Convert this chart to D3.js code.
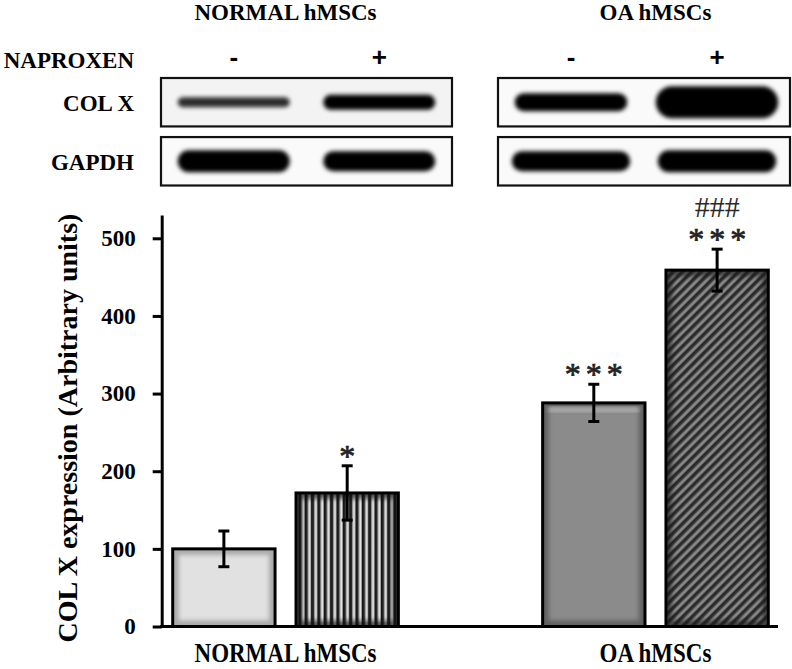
<!DOCTYPE html>
<html><head><meta charset="utf-8">
<script src="https://cdn.jsdelivr.net/npm/d3@7"></script>
<style>body{margin:0;background:#fff}svg{display:block}</style>
</head><body><svg id="c" width="792" height="669"></svg>
<script>
// ---------- data ----------
const groups = ["NORMAL hMSCs", "OA hMSCs"];
const treatments = ["-", "+"];
const normalValues = [100, 172];
const oaValues = [288, 459];
const normalErrors = [23, 35];
const oaErrors = [24, 27];
const starLabels = ["", "*", "***", "***"];
const hashLabels = ["", "", "", "###"];
const yTicks = [0, 100, 200, 300, 400, 500];
const blotRows = ["COL X", "GAPDH"];
// western blot band thickness (relative intensity) per group x treatment
const colxBandThickness = [[10, 15], [18, 32]];
const colxBandDarkness = [[0.82, 1], [1, 1]];
const gapdhBandThickness = [[22, 20], [20, 22]];

const bars = [];
groups.forEach((g, gi) => treatments.forEach((t, ti) => {
  const vals = gi === 0 ? normalValues : oaValues;
  const errs = gi === 0 ? normalErrors : oaErrors;
  const idx = gi * 2 + ti;
  bars.push({group: g, treat: t, value: vals[ti], err: errs[ti], idx,
             star: starLabels[idx], hash: hashLabels[idx]});
}));

// ---------- setup ----------
const svg = d3.select("#c");
const FONT = "'Liberation Serif','Times New Roman',serif";
svg.append("rect").attr("width", 792).attr("height", 669).attr("fill", "#fff");
const defs = svg.append("defs");

defs.append("filter").attr("id", "blur").attr("x", "-20%").attr("y", "-80%")
  .attr("width", "140%").attr("height", "260%")
  .append("feGaussianBlur").attr("stdDeviation", 2.3);
defs.append("filter").attr("id", "soft").attr("x", "-10%").attr("y", "-10%")
  .attr("width", "120%").attr("height", "120%")
  .append("feGaussianBlur").attr("stdDeviation", 2.2);

// vertical stripes
const vg = defs.append("linearGradient").attr("id", "vg").attr("x1", 0).attr("x2", 1).attr("y1", 0).attr("y2", 0);
[[0, "#111"], [0.38, "#2a2a2a"], [0.55, "#b5b5b5"], [0.78, "#e8e8e8"], [1, "#777"]]
  .forEach(([o, c]) => vg.append("stop").attr("offset", o).attr("stop-color", c));
defs.append("pattern").attr("id", "vstripe").attr("patternUnits", "userSpaceOnUse")
  .attr("width", 6.35).attr("height", 10)
  .append("rect").attr("width", 6.35).attr("height", 10).attr("fill", "url(#vg)");

// diagonal stripes
const dg = defs.append("linearGradient").attr("id", "dg").attr("x1", 0).attr("x2", 1).attr("y1", 0).attr("y2", 0);
[[0, "#262626"], [0.42, "#303030"], [0.6, "#858585"], [0.88, "#8d8d8d"], [1, "#4a4a4a"]]
  .forEach(([o, c]) => dg.append("stop").attr("offset", o).attr("stop-color", c));
defs.append("pattern").attr("id", "dstripe").attr("patternUnits", "userSpaceOnUse")
  .attr("width", 6.6).attr("height", 10).attr("patternTransform", "rotate(45)")
  .append("rect").attr("width", 6.6).attr("height", 10).attr("fill", "url(#dg)");

const barFill = ["#e1e1e1", "url(#vstripe)", "#8b8b8b", "url(#dstripe)"];
const barShade = ["#8c8c8c", "#111", "#4a4a4a", "#1a1a1a"];

// ---------- scales ----------
const x0 = d3.scaleBand().domain(groups).range([172.7, 768.3]).paddingInner(0.39).paddingOuter(0);
const x1 = d3.scaleBand().domain(treatments).range([0, x0.bandwidth()]).paddingInner(0.17);
const y = d3.scaleLinear().domain([0, 530]).range([626.5, 215]);
const axisX = 161.7;

// ---------- bars ----------
const gb = svg.append("g");
bars.forEach(b => {
  const bx = x0(b.group) + x1(b.treat), bw = x1.bandwidth();
  const by = y(b.value), bh = y(0) - y(b.value);
  defs.append("clipPath").attr("id", "clip" + b.idx)
    .append("rect").attr("x", bx).attr("y", by).attr("width", bw).attr("height", bh);
  gb.append("rect").attr("x", bx).attr("y", by).attr("width", bw).attr("height", bh)
    .attr("fill", barFill[b.idx]);
  gb.append("rect").attr("x", bx).attr("y", by).attr("width", bw).attr("height", bh)
    .attr("fill", "none").attr("stroke", barShade[b.idx]).attr("stroke-width", 12)
    .attr("opacity", 0.65).attr("filter", "url(#soft)").attr("clip-path", `url(#clip${b.idx})`);
  if (b.idx === 2) {
    gb.append("rect").attr("x", bx + 6).attr("y", by + 4).attr("width", bw - 12).attr("height", 5)
      .attr("fill", "#b4b4b4").attr("filter", "url(#soft)").attr("clip-path", `url(#clip${b.idx})`);
  }
  gb.append("rect").attr("x", bx).attr("y", by).attr("width", bw).attr("height", bh)
    .attr("fill", "none").attr("stroke", "#000").attr("stroke-width", 3);

  // error bars
  const cx = bx + bw / 2;
  const yt = y(b.value + b.err), yb = y(b.value - b.err);
  gb.append("line").attr("x1", cx).attr("x2", cx).attr("y1", yt).attr("y2", yb)
    .attr("stroke", "#000").attr("stroke-width", 3);
  [yt, yb].forEach(yy => gb.append("line").attr("x1", cx - 5.5).attr("x2", cx + 5.5)
    .attr("y1", yy).attr("y2", yy).attr("stroke", "#000").attr("stroke-width", 3));

  if (b.star) {
    gb.append("text").attr("x", cx + (b.star.length > 1 ? 2.5 : 0)).attr("y", yt + 1)
      .attr("text-anchor", "middle").attr("font-family", FONT).attr("font-size", 32)
      .attr("letter-spacing", b.star.length > 1 ? 5 : 0)
      .attr("fill", "#222").attr("stroke", "#222").attr("stroke-width", 0.7).text(b.star);
  }
  if (b.hash) {
    gb.append("text").attr("x", cx).attr("y", yt - 32)
      .attr("text-anchor", "middle").attr("font-family", FONT).attr("font-size", 30)
      .attr("fill", "#2a2a2a").text(b.hash);
  }
});

// ---------- axes ----------
const yAxis = d3.axisLeft(y).tickValues(yTicks).tickSize(9).tickSizeOuter(0)
  .tickPadding(17).tickFormat(d3.format("d"));
const ga = svg.append("g").attr("transform", `translate(${axisX},0)`).call(yAxis);
ga.select(".domain").attr("stroke", "#000").attr("stroke-width", 3);
ga.selectAll(".tick line").attr("stroke", "#000").attr("stroke-width", 3);
ga.selectAll(".tick text").attr("font-family", FONT).attr("font-size", 23)
  .attr("font-weight", "bold").attr("fill", "#000");

svg.append("line").attr("x1", axisX - 1.5).attr("x2", 778).attr("y1", y(0)).attr("y2", y(0))
  .attr("stroke", "#000").attr("stroke-width", 3);

svg.append("text").attr("transform", `translate(77,428) rotate(-90)`)
  .attr("text-anchor", "middle").attr("font-family", FONT).attr("font-size", 28)
  .attr("font-weight", "bold").text("COL X expression (Arbitrary units)");

// group labels (bottom)
groups.forEach(g => {
  svg.append("text")
    .attr("transform", `translate(${x0(g) + x0.bandwidth() / 2},662) scale(1,1.2)`)
    .attr("text-anchor", "middle").attr("font-family", FONT).attr("font-size", 23)
    .attr("font-weight", "bold").text(g);
});

// ---------- western blot ----------
const boxes = [[161, 452], [498, 790]];
const rowY = d3.scaleBand().domain(blotRows).range([78, 185.5]).paddingInner(0.18);
const gw = svg.append("g");
groups.forEach((g, gi) => {
  const [bx0, bx1] = boxes[gi];
  const lane = d3.scalePoint().domain(treatments).range([bx0, bx1]).padding(0.5);
  const laneW = (bx1 - bx0) * 0.385;
  svg.append("text").attr("x", x0(g) + x0.bandwidth() / 2).attr("y", 20)
    .attr("text-anchor", "middle").attr("font-family", FONT).attr("font-size", 23)
    .attr("font-weight", "bold").text(g);
  treatments.forEach(t => {
    svg.append("text").attr("x", lane(t)).attr("y", 66)
      .attr("text-anchor", "middle").attr("font-family", "'Liberation Sans',Arial,sans-serif")
      .attr("font-size", 26).attr("font-weight", "bold").text(t);
  });
  blotRows.forEach((r, ri) => {
    const ry = rowY(r), rh = rowY.bandwidth();
    gw.append("rect").attr("x", bx0).attr("y", ry).attr("width", bx1 - bx0).attr("height", rh)
      .attr("fill", ri === 0 && gi === 0 ? "#f3f3f3" : "#fafafa");
    treatments.forEach((t, ti) => {
      const th = ri === 0 ? colxBandThickness[gi][ti] : gapdhBandThickness[gi][ti];
      const dark = ri === 0 ? colxBandDarkness[gi][ti] : 1;
      const w = laneW + (ri === 1 && gi === 1 ? 6 : 0) + (ri === 0 && gi === 1 && ti === 1 ? 10 : 0);
      gw.append("rect").attr("x", lane(t) - w / 2).attr("y", ry + rh / 2 - th / 2)
        .attr("width", w).attr("height", th).attr("rx", th / 2).attr("ry", th / 2)
        .attr("fill", "#000").attr("opacity", dark).attr("filter", "url(#blur)");
    });
    gw.append("rect").attr("x", bx0).attr("y", ry).attr("width", bx1 - bx0).attr("height", rh)
      .attr("fill", "none").attr("stroke", "#111").attr("stroke-width", 2.2);
  });
});
svg.append("text").attr("x", 134).attr("y", 68).attr("text-anchor", "end")
  .attr("font-family", FONT).attr("font-size", 23).attr("font-weight", "bold").text("NAPROXEN");
blotRows.forEach(r => {
  svg.append("text").attr("x", 134).attr("y", rowY(r) + rowY.bandwidth() / 2 + 8.5)
    .attr("text-anchor", "end").attr("font-family", FONT).attr("font-size", 23)
    .attr("font-weight", "bold").text(r);
});
</script></body></html>
